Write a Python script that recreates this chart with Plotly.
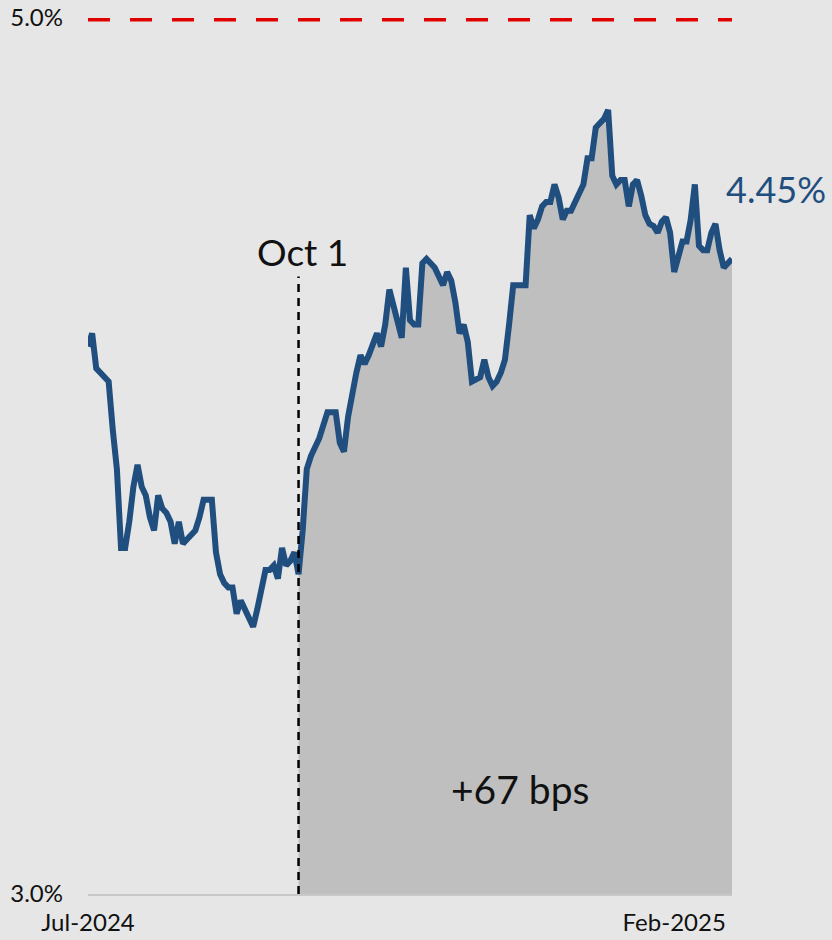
import pandas as pd
import plotly.graph_objects as go

# 10-year yield, daily closes (%), late July 2024 through February 2025
yields = [
    4.25, 4.28, 4.20, 4.19, 4.18, 4.17, 4.06, 3.97, 3.79, 3.79,
    3.85, 3.93, 3.98, 3.93, 3.91, 3.86, 3.83, 3.91, 3.88, 3.87,
    3.85, 3.80, 3.85, 3.80, 3.81, 3.82, 3.83, 3.86, 3.90, 3.90,
    3.90, 3.78, 3.73, 3.71, 3.70, 3.70, 3.64, 3.67, 3.65, 3.63,
    3.61, 3.65, 3.70, 3.74, 3.74, 3.75, 3.72, 3.79, 3.75, 3.76,
    3.78, 3.73, 3.83, 3.97, 4.00, 4.02, 4.04, 4.07, 4.10, 4.10,
    4.10, 4.03, 4.01, 4.09, 4.15, 4.19, 4.23, 4.21, 4.23, 4.26,
    4.28, 4.25, 4.30, 4.38, 4.34, 4.30, 4.27, 4.43, 4.31, 4.30,
    4.30, 4.44, 4.45, 4.44, 4.43, 4.41, 4.39, 4.42, 4.40, 4.35,
    4.28, 4.30, 4.26, 4.17, 4.175, 4.18, 4.22, 4.18, 4.16, 4.17,
    4.19, 4.22, 4.30, 4.39, 4.39, 4.39, 4.39, 4.55, 4.52, 4.54,
    4.57, 4.58, 4.58, 4.62, 4.59, 4.54, 4.56, 4.56, 4.58, 4.60,
    4.62, 4.68, 4.68, 4.75, 4.76, 4.77, 4.79, 4.64, 4.62, 4.63,
    4.63, 4.57, 4.62, 4.63, 4.595, 4.55, 4.53, 4.525, 4.51, 4.535,
    4.545, 4.51, 4.42, 4.46, 4.49, 4.49, 4.54, 4.62, 4.48, 4.47,
    4.47, 4.51, 4.53, 4.47, 4.43, 4.44, 4.45,
]
dates = pd.bdate_range("2024-07-22", periods=len(yields)).strftime("%Y-%m-%d").tolist()

start_date = "2024-10-01"
cap_level = 5.0
axis_min = 3.0
y_ticks = [3.0, 5.0]
y_tick_text = ["3.0%", "5.0%"]
x_tick_dates = [dates[0], "2025-02-05"]
x_tick_text = ["Jul-2024", "Feb-2025"]
change_text = "+67 bps"

BLUE = "#1f4e7f"
BG = "#e6e6e6"
FONT = "Lato"

i0 = dates.index(start_date)

fig = go.Figure()

# shaded area from Oct 1 onward
fig.add_trace(go.Scatter(
    x=dates[i0:], y=yields[i0:], mode="lines",
    line=dict(width=0, color="#bfbfbf"),
    fill="tozeroy", fillcolor="#bfbfbf",
    hoverinfo="skip", showlegend=False,
))

# yield line
fig.add_trace(go.Scatter(
    x=dates, y=yields, mode="lines",
    line=dict(color=BLUE, width=6),
    showlegend=False,
))

# 5% cap line
fig.add_shape(type="line", xref="paper", x0=0, x1=1, yref="y",
              y0=cap_level, y1=cap_level,
              line=dict(color="#e00000", width=7, dash="22px,20px"))

# Oct 1 marker
fig.add_shape(type="line", xref="x", x0=i0, x1=i0, yref="y",
              y0=axis_min, y1=4.41,
              line=dict(color="black", width=2.5, dash="8px,6px"))

fig.add_annotation(x=i0, y=4.466, xref="x", yref="y", text="Oct 1",
                   showarrow=False, xanchor="center", yanchor="middle",
                   xshift=4, font=dict(family=FONT, size=37, color="#111111"))

fig.add_annotation(x=len(yields) - 1, y=4.61, xref="x", yref="y",
                   text=f"{yields[-1]:.2f}%", showarrow=False,
                   xanchor="left", yanchor="middle", xshift=-8,
                   font=dict(family=FONT, size=36, color=BLUE))

fig.add_annotation(x=0.671, y=3.24, xref="paper", yref="y", text=change_text,
                   showarrow=False, xanchor="center", yanchor="middle",
                   font=dict(family=FONT, size=39, color="#111111"))

fig.update_layout(
    width=832, height=940,
    margin=dict(l=88, r=100, t=18, b=46),
    paper_bgcolor=BG, plot_bgcolor=BG,
    font=dict(family=FONT, color="#111111"),
    showlegend=False,
)

fig.update_xaxes(
    type="category", categoryorder="array", categoryarray=dates,
    range=[0, len(yields) - 1],
    tickmode="array", tickvals=x_tick_dates, ticktext=x_tick_text,
    tickangle=0, automargin=False,
    showgrid=False, zeroline=False, ticks="",
    showline=True, linecolor="#c8c8c8", linewidth=2,
    tickfont=dict(family=FONT, size=24, color="#111111"),
    ticklabelstandoff=6,
)
fig.update_yaxes(
    range=[axis_min, cap_level], tickvals=y_ticks, ticktext=y_tick_text,
    automargin=False,
    showgrid=False, zeroline=False, ticks="", showline=False,
    tickfont=dict(family=FONT, size=24, color="#111111"),
    ticklabelstandoff=24,
)

fig.write_html("out.html")
